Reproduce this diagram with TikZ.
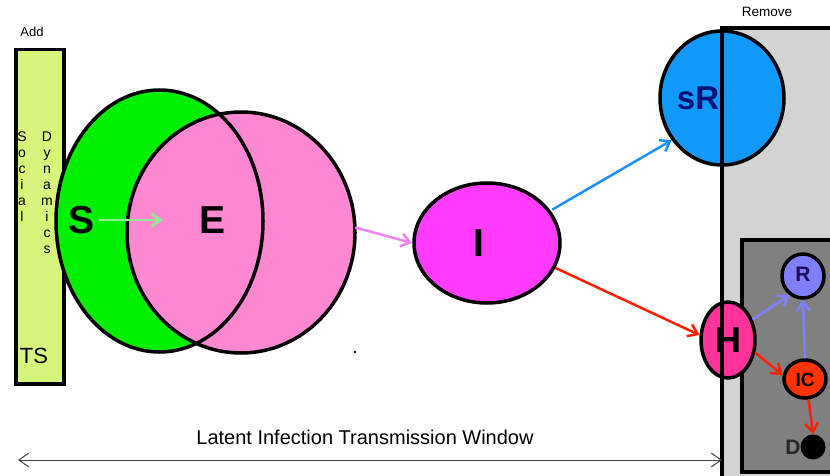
\documentclass[tikz,border=0pt]{standalone}
\usepackage{fontspec}
\setmainfont{Liberation Sans}
\usetikzlibrary{arrows.meta,shapes.geometric}
\definecolor{ygreen}{RGB}{214,245,122}
\definecolor{sgreen}{RGB}{0,240,0}
\definecolor{epink}{RGB}{255,136,210}
\definecolor{imag}{RGB}{255,60,255}
\definecolor{srblue}{RGB}{17,153,250}
\definecolor{hpink}{RGB}{255,51,153}
\definecolor{rperi}{RGB}{128,128,255}
\definecolor{icred}{RGB}{255,51,0}
\definecolor{lgray}{RGB}{211,211,211}
\definecolor{dgray}{RGB}{128,128,128}
\definecolor{arrgreen}{RGB}{144,238,144}
\definecolor{arrviolet}{RGB}{238,130,238}
\definecolor{arrblue}{RGB}{30,144,255}
\definecolor{arrred}{RGB}{255,30,0}
\definecolor{srtext}{RGB}{0,20,120}
\definecolor{rtext}{RGB}{30,10,90}
\tikzset{
  ol/.style={line width=3.5pt},
  blob/.style={ellipse, draw, line width=3.5pt, inner sep=0pt},
  arr/.style={line width=2.5pt, -{Straight Barb[length=9pt,width=13pt]}},
  big/.style={font=\fontsize{39}{40}\selectfont\bfseries},
}
\begin{document}
\begin{tikzpicture}[x=1pt,y=-1pt]
\useasboundingbox (0,0) rectangle (830,476);
% Remove region
\node[rectangle, fill=lgray, minimum width=130, minimum height=470, anchor=north west, inner sep=0pt] (rem) at (722,28) {};
\node[rectangle, fill=dgray, draw, line width=3.5pt, minimum width=110, minimum height=232, anchor=north west, inner sep=0pt] (inner) at (740,238) {};
\node at (767,12) {\fontsize{13.5}{15}\selectfont Remove};
% Add bar
\node at (32,32) {\fontsize{13}{15}\selectfont Add};
\node[rectangle, fill=ygreen, draw, line width=3.5pt, minimum width=48, minimum height=334, anchor=north west, inner sep=0pt] (bar) at (14,48) {};
% S and E
\node[ellipse, fill=sgreen, minimum width=207, minimum height=262, inner sep=0pt] (S) at (159.5,221) {};
\node[ellipse, fill=epink, minimum width=228, minimum height=241, inner sep=0pt] (E) at (241,232.5) {};
\draw[ol] (S.center) ellipse [x radius=103.5, y radius=131];
\draw[ol] (E.center) ellipse [x radius=114, y radius=120.5];
\node[anchor=north, align=center, font=\fontsize{14}{16}\selectfont] (soc) at (22,128) {S\\o\\c\\i\\a\\l};
\node[anchor=north, align=center, font=\fontsize{14}{16}\selectfont] (dyn) at (47,128) {D\\y\\n\\a\\m\\i\\c\\s};
\node[font=\fontsize{22}{24}\selectfont] (ts) at (34,356) {TS};
\node[big] (Slab) at (82,220) {S};
\node[big] (Elab) at (213,220) {E};
\fill (355,352) circle (1.3);
% I
\node[blob, fill=imag, minimum width=146, minimum height=120] (I) at (487,243) {};
\node[big] (Ilab) at (479,243) {I};
% sR
\node[blob, fill=srblue, minimum width=124, minimum height=134] (sR) at (722,98) {};
\node[font=\fontsize{33}{35}\selectfont\bfseries, text=srtext] (sRlab) at (698,98) {sR};
% H, R, IC, D
\node[blob, fill=hpink, minimum width=54, minimum height=76] (H) at (728,340) {};
\node[font=\fontsize{36}{38}\selectfont\bfseries] (Hlab) at (728,340) {H};
\draw[ol] (rem.south west) -- (rem.north west) -- ([xshift=20]rem.north east);
\node[blob, fill=rperi, minimum width=42, minimum height=44] (R) at (803,276) {};
\node[font=\fontsize{21}{23}\selectfont\bfseries, text=rtext] (Rlab) at (803,274) {R};
\node[blob, fill=icred, minimum width=42, minimum height=38] (IC) at (805,379) {};
\node[font=\fontsize{19}{21}\selectfont\bfseries] (IClab) at (805,380) {IC};
\node[circle, fill=black, minimum size=25, inner sep=0pt] (D) at (813,447) {};
\node[font=\fontsize{21}{23}\selectfont\bfseries, text=black!85] (Dlab) at (793,447) {D};
% arrows
\draw[arr, arrgreen] (Slab.east) -- ([xshift=-34]Elab.west);
\draw[arr, arrviolet] ([yshift=5]E.east) -- (I.west);
\draw[arr, arrblue] ([shift={(4,2)}]I.30) -- (sR.220);
\draw[arr, arrred] (I.-20) -- (H.170);
\draw[arr, rperi] (H.40) -- (R.235);
\draw[arr, arrred] (H.-25) -- (IC.170);
\draw[arr, rperi] (IC.north) -- (R.south);
\draw[arr, arrred] (IC.-80) -- (D.90);
% window
\coordinate (wl) at (18,460);
\coordinate (wr) at (rem.west |- wl);
\draw[line width=1pt, black!75, {Straight Barb[length=10pt,width=14pt]}-{Straight Barb[length=10pt,width=14pt]}] (wl) -- (wr);
\node[font=\fontsize{20}{22}\selectfont] (win) at (365,437) {Latent Infection Transmission Window};
\end{tikzpicture}
\end{document}
